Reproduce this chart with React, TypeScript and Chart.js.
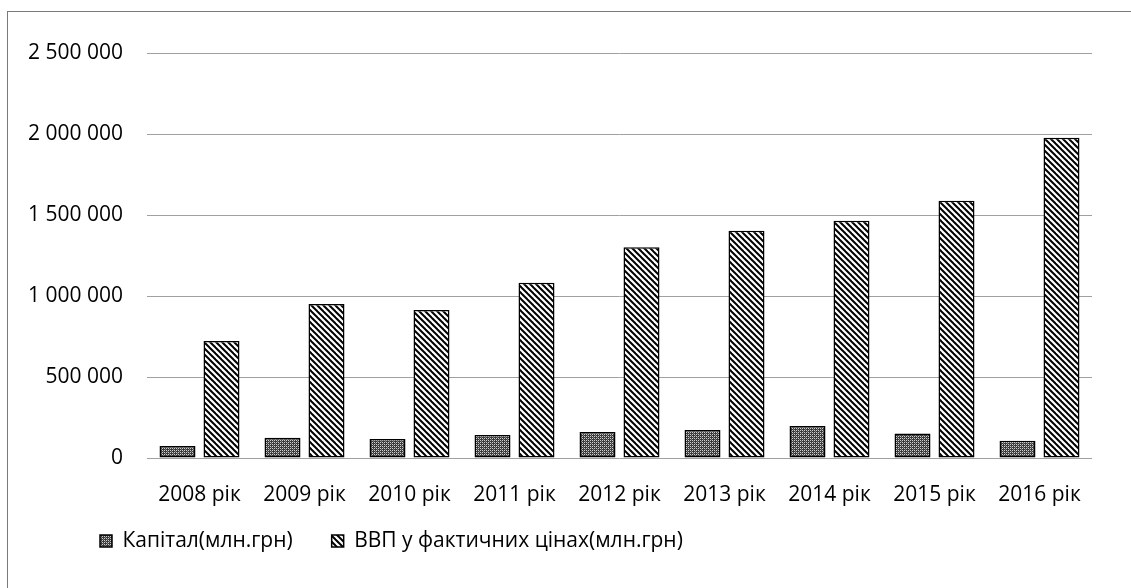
import React, { useEffect, useRef } from 'react';
import { Chart, registerables } from 'chart.js';

Chart.register(...registerables);

const categories = ['2008 рік', '2009 рік', '2010 рік', '2011 рік', '2012 рік', '2013 рік', '2014 рік', '2015 рік', '2016 рік'];
const capitalValues = [74000, 125000, 117000, 142000, 160000, 173000, 198000, 152000, 107000];
const gdpValues = [722000, 950000, 913000, 1082000, 1301000, 1403000, 1465000, 1588000, 1977000];
const seriesNames = ['Капітал(млн.грн)', 'ВВП у фактичних цінах(млн.грн)'];
const yMin = 0;
const yMax = 2500000;
const yStep = 500000;

const FONT = "'Open Sans', 'DejaVu Sans', sans-serif";
const LEGEND_LEFT = 61;
const LEGEND_TOP = 491.5;

function makeDotPattern(ctx: CanvasRenderingContext2D): CanvasPattern | string {
  const c = document.createElement('canvas');
  c.width = 4;
  c.height = 4;
  const g = c.getContext('2d');
  if (!g) return '#666';
  g.fillStyle = '#3a3a3a';
  g.fillRect(0, 0, 4, 4);
  g.fillStyle = '#d0d0d0';
  g.fillRect(0, 0, 1, 1);
  g.fillRect(2, 0, 1, 1);
  g.fillRect(0, 2, 1, 1);
  g.fillRect(2, 2, 1, 1);
  g.fillStyle = '#7a7a7a';
  g.fillRect(1, 1, 1, 1);
  g.fillRect(3, 3, 1, 1);
  return ctx.createPattern(c, 'repeat') || '#666';
}

function makeHatchPattern(ctx: CanvasRenderingContext2D): CanvasPattern | string {
  const s = 6;
  const c = document.createElement('canvas');
  c.width = s;
  c.height = s;
  const g = c.getContext('2d');
  if (!g) return '#aaa';
  g.fillStyle = '#ffffff';
  g.fillRect(0, 0, s, s);
  g.strokeStyle = '#000000';
  g.lineWidth = 2;
  for (const k of [-s, 0, s]) {
    g.beginPath();
    g.moveTo(k - 1, -1);
    g.lineTo(k + s + 1, s + 1);
    g.stroke();
  }
  return ctx.createPattern(c, 'repeat') || '#aaa';
}

function formatNum(v: number): string {
  return Math.round(v).toString().replace(/\B(?=(\d{3})+(?!\d))/g, ' ');
}

const legendPlacer = {
  id: 'legendPlacer',
  afterLayout(chart: any) {
    const lg = chart.legend;
    if (!lg) return;
    const h = lg.height;
    const w = lg.width;
    lg.left = LEGEND_LEFT;
    lg.right = LEGEND_LEFT + w;
    lg.top = LEGEND_TOP;
    lg.bottom = LEGEND_TOP + h;
  },
};

export default function App() {
  const canvasRef = useRef<HTMLCanvasElement | null>(null);

  useEffect(() => {
    const canvas = canvasRef.current;
    if (!canvas) return;
    const ctx = canvas.getContext('2d');
    if (!ctx) return;
    const dotPattern = makeDotPattern(ctx);
    const hatchPattern = makeHatchPattern(ctx);

    const chart = new Chart(ctx, {
      type: 'bar',
      data: {
        labels: categories,
        datasets: [
          {
            label: seriesNames[0],
            data: capitalValues,
            backgroundColor: dotPattern as any,
            borderColor: '#000000',
            borderWidth: 1.5,
            borderSkipped: false,
            categoryPercentage: 0.838,
            barPercentage: 0.818,
          },
          {
            label: seriesNames[1],
            data: gdpValues,
            backgroundColor: hatchPattern as any,
            borderColor: '#000000',
            borderWidth: 1.5,
            borderSkipped: false,
            categoryPercentage: 0.838,
            barPercentage: 0.818,
          },
        ],
      },
      options: {
        responsive: false,
        animation: false,
        maintainAspectRatio: false,
        layout: {
          padding: { top: 53, left: 0, right: 39, bottom: 0 },
        },
        plugins: {
          tooltip: { enabled: false },
          title: { display: false },
          legend: {
            display: true,
            position: 'bottom',
            align: 'start',
            labels: {
              boxWidth: 12,
              boxHeight: 12,
              padding: 39,
              color: '#000000',
              font: { family: FONT, size: 21 },
            },
          },
        },
        scales: {
          x: {
            grid: { display: false, drawTicks: false },
            border: { display: false },
            ticks: {
              color: '#000000',
              font: { family: FONT, size: 21 },
              padding: 24,
              autoSkip: false,
              maxRotation: 0,
              minRotation: 0,
            },
            afterFit: (scale: any) => {
              scale.height = 60;
            },
          },
          y: {
            min: yMin,
            max: yMax,
            grid: { color: '#a0a0a0', lineWidth: 1, drawTicks: false },
            border: { display: false },
            ticks: {
              stepSize: yStep,
              color: '#000000',
              font: { family: FONT, size: 21 },
              padding: 24,
              callback: (v: any) => formatNum(Number(v)),
            },
            afterFit: (scale: any) => {
              scale.width = 147;
            },
          },
        },
      },
      plugins: [legendPlacer],
    });

    return () => {
      chart.destroy();
    };
  }, []);

  return (
    <div
      style={{
        position: 'fixed',
        left: 0,
        top: 0,
        width: '1131px',
        height: '588px',
        overflow: 'hidden',
        background: '#ffffff',
      }}
    >
      <div
        style={{
          position: 'absolute',
          left: '7px',
          top: '11px',
          width: '1200px',
          height: '700px',
          borderLeft: '1px solid #7a7a7a',
          borderTop: '1px solid #7a7a7a',
          boxSizing: 'border-box',
        }}
      />
      <canvas
        ref={canvasRef}
        width={1131}
        height={588}
        style={{ position: 'absolute', left: 0, top: 0, width: '1131px', height: '588px' }}
      />
    </div>
  );
}
